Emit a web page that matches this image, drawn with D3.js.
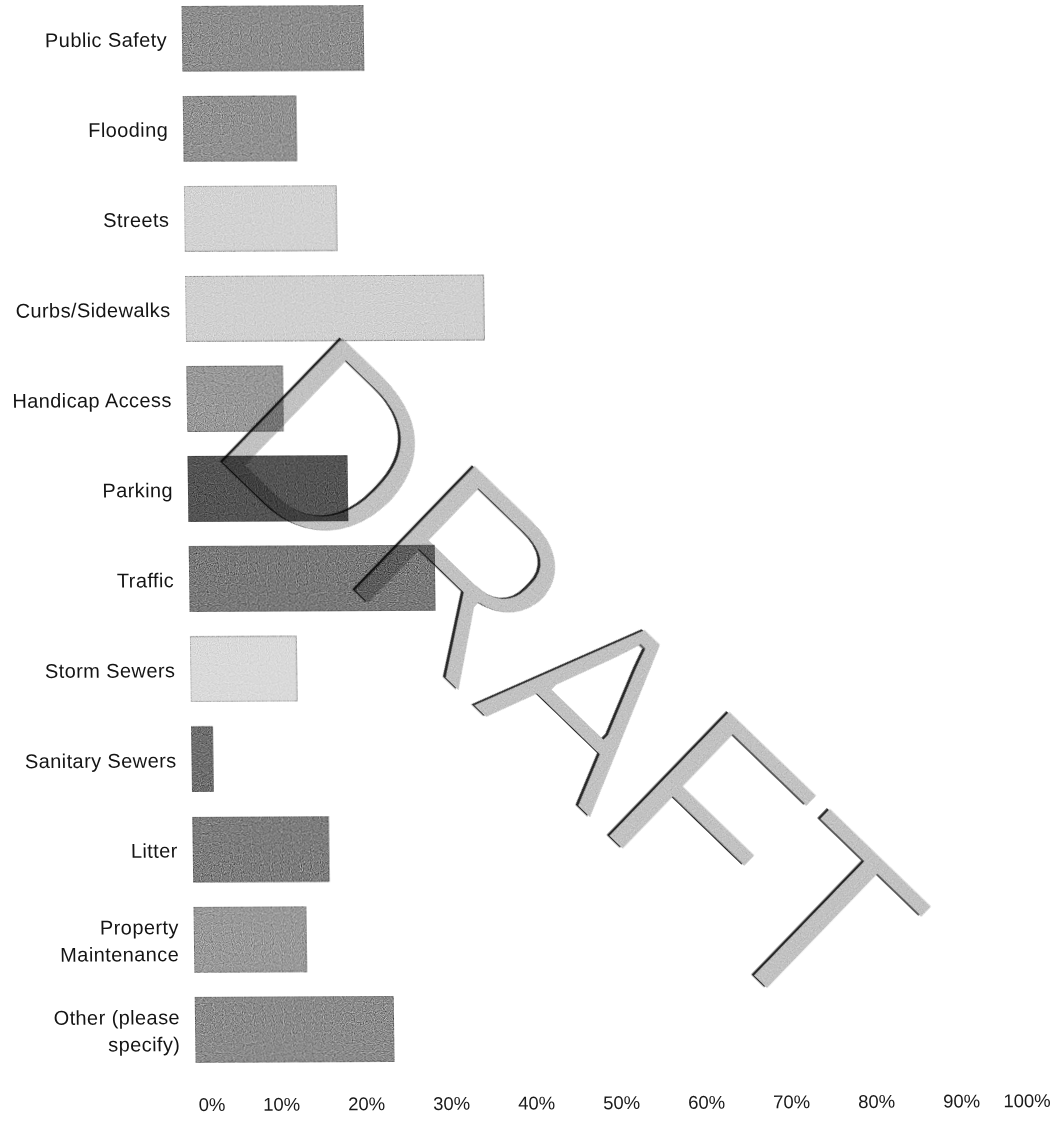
<!DOCTYPE html>
<html>
<head>
<meta charset="utf-8">
<script src="https://cdn.jsdelivr.net/npm/d3@7"></script>
<style>
  html, body { margin: 0; padding: 0; background: #fff; }
  svg { display: block; }
  .cat { font-family: "Liberation Sans", Arial, sans-serif; font-size: 20px; fill: #141414; letter-spacing: 0.4px; }
  .tick text { font-family: "Liberation Sans", Arial, sans-serif; font-size: 18.5px; fill: #1a1a1a; }
  .watermark { font-family: "Liberation Sans", Arial, sans-serif; font-size: 259px; }
</style>
</head>
<body>
<svg id="chart" width="1056" height="1122"></svg>
<script>
// Survey question: share of respondents choosing each concern
const categories = [
  "Public Safety", "Flooding", "Streets", "Curbs/Sidewalks", "Handicap Access",
  "Parking", "Traffic", "Storm Sewers", "Sanitary Sewers", "Litter",
  "Property Maintenance", "Other (please specify)"
];
const labelLines = [
  ["Public Safety"], ["Flooding"], ["Streets"], ["Curbs/Sidewalks"], ["Handicap Access"],
  ["Parking"], ["Traffic"], ["Storm Sewers"], ["Sanitary Sewers"], ["Litter"],
  ["Property", "Maintenance"], ["Other (please", "specify)"]
];
const values = [21.4, 13.3, 17.9, 35.1, 11.3, 18.8, 28.9, 12.5, 2.5, 16.0, 13.2, 23.4];
const barColors = [
  "#8f8f8f", "#939393", "#d3d3d3", "#d1d1d1", "#9a9a9a", "#555555",
  "#7b7b7b", "#dadada", "#707070", "#7f7f7f", "#9b9b9b", "#8d8d8d"
];
const tickValues = [0, 10, 20, 30, 40, 50, 60, 70, 80, 90, 100];
const tickLabels = ["0%", "10%", "20%", "30%", "40%", "50%", "60%", "70%", "80%", "90%", "100%"];

const svg = d3.select("#chart");

// halftone-like grain for the printed fills, and a thinning filter for the stamp letters
const defs = svg.append("defs");
const grain = defs.append("filter").attr("id", "grain")
  .attr("x", 0).attr("y", 0).attr("width", "100%").attr("height", "100%")
  .attr("color-interpolation-filters", "sRGB");
grain.append("feTurbulence").attr("type", "fractalNoise")
  .attr("baseFrequency", 0.9).attr("numOctaves", 1).attr("seed", 7).attr("result", "noise");
grain.append("feColorMatrix").attr("in", "noise").attr("type", "matrix")
  .attr("values", "0.33 0.33 0.33 0 0  0.33 0.33 0.33 0 0  0.33 0.33 0.33 0 0  0 0 0 0 1")
  .attr("result", "gray");
const ct = grain.append("feComponentTransfer").attr("in", "gray").attr("result", "gc");
["feFuncR", "feFuncG", "feFuncB"].forEach(f =>
  ct.append(f).attr("type", "linear").attr("slope", 1.6).attr("intercept", -0.3));
grain.append("feBlend").attr("in", "gc").attr("in2", "SourceGraphic")
  .attr("mode", "overlay").attr("result", "mix");
grain.append("feComposite").attr("in", "mix").attr("in2", "SourceGraphic").attr("operator", "in");

const thin = defs.append("filter").attr("id", "thin")
  .attr("x", "-5%").attr("y", "-5%").attr("width", "110%").attr("height", "110%")
  .attr("color-interpolation-filters", "sRGB");
thin.append("feMorphology").attr("operator", "erode").attr("radius", 3).attr("result", "e");
thin.append("feTurbulence").attr("type", "fractalNoise")
  .attr("baseFrequency", 0.9).attr("numOctaves", 1).attr("seed", 3).attr("result", "noise");
thin.append("feColorMatrix").attr("in", "noise").attr("type", "matrix")
  .attr("values", "0.33 0.33 0.33 0 0  0.33 0.33 0.33 0 0  0.33 0.33 0.33 0 0  0 0 0 0 1")
  .attr("result", "gray");
thin.append("feBlend").attr("in", "gray").attr("in2", "e").attr("mode", "overlay").attr("result", "mix");
thin.append("feComposite").attr("in", "mix").attr("in2", "e").attr("operator", "in");

const thinDark = defs.append("filter").attr("id", "thinDark")
  .attr("x", "-5%").attr("y", "-5%").attr("width", "110%").attr("height", "110%");
thinDark.append("feMorphology").attr("operator", "erode").attr("radius", 3);

// the printed page sits slightly skewed
const page = svg.append("g")
  .attr("transform", "matrix(1,-0.0047,0.0133,1,-14.56,0.92)");

const x = d3.scaleLinear().domain([0, 100]).range([196, 1046]);
const y = d3.scaleBand().domain(categories).range([6, 1062.2])
  .paddingInner(0.278).paddingOuter(0);

// bars
page.append("g").selectAll("rect")
  .data(categories)
  .join("rect")
  .attr("x", x(0))
  .attr("y", d => y(d))
  .attr("width", (d, i) => x(values[i]) - x(0))
  .attr("height", y.bandwidth())
  .attr("fill", (d, i) => barColors[i])
  .attr("stroke", (d, i) => d3.color(barColors[i]).darker(0.8))
  .attr("stroke-width", 1)
  .attr("filter", "url(#grain)");

// category labels
const labels = page.append("g").selectAll("text")
  .data(categories)
  .join("text")
  .attr("class", "cat")
  .attr("text-anchor", "end")
  .attr("x", x(0) - 15)
  .attr("y", d => y(d) + y.bandwidth() / 2);

labels.each(function(d, i) {
  const lines = labelLines[i];
  const t = d3.select(this);
  const first = lines.length === 1 ? 8 : -5.5;
  lines.forEach((ln, j) => {
    t.append("tspan")
      .attr("x", x(0) - 15)
      .attr("dy", j === 0 ? first : 27)
      .text(ln);
  });
});

// percentage axis
const axis = d3.axisBottom(x)
  .tickValues(tickValues)
  .tickFormat((d, i) => tickLabels[i])
  .tickSize(0)
  .tickPadding(0);

const axisG = page.append("g")
  .attr("transform", "translate(0,1097)")
  .call(axis);
axisG.select(".domain").remove();
axisG.selectAll(".tick text")
  .attr("dy", "0.76em")
  .attr("text-anchor", d => d === 0 ? "start" : d === 100 ? "end" : "middle")
  .attr("dx", d => d === 0 ? 2 : d === 100 ? 4 : 0);

// DRAFT stamp
const stamp = svg.append("g")
  .style("mix-blend-mode", "multiply")
  .attr("transform", "translate(203,447.5) rotate(44)");
stamp.append("text")
  .attr("class", "watermark")
  .attr("x", -2.5).attr("y", 1.2)
  .attr("letter-spacing", -3)
  .attr("fill", "#262626")
  .attr("filter", "url(#thinDark)")
  .text("DRAFT");
stamp.append("text")
  .attr("class", "watermark")
  .attr("letter-spacing", -3)
  .attr("fill", "#c2c2c2")
  .attr("filter", "url(#thin)")
  .text("DRAFT");
</script>
</body>
</html>
